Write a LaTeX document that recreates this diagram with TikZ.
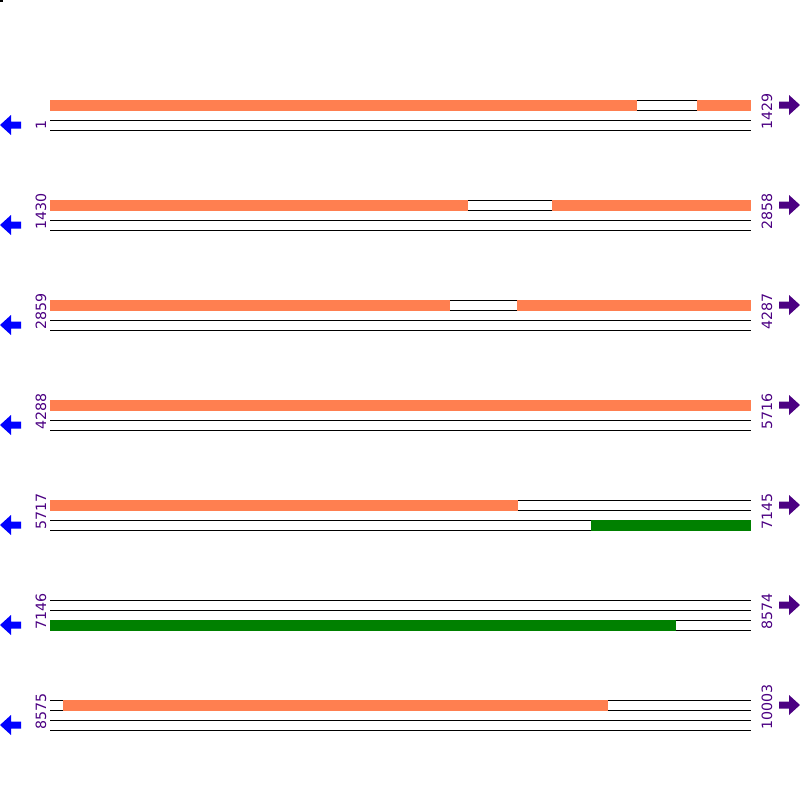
\documentclass[tikz,border=0pt]{standalone}
\usepackage{fontspec}
\setmainfont{DejaVu Sans}
\definecolor{coralc}{HTML}{FF7F50}
\definecolor{greenc}{HTML}{008000}
\definecolor{labc}{HTML}{4B0082}
\definecolor{bluec}{HTML}{0000FF}
\begin{document}
\begin{tikzpicture}[x=1pt,y=-1pt,
  trackline/.style={line width=1pt, black},
  orangebar/.style={fill=coralc},
  greenbar/.style={fill=greenc},
  numlab/.style={rotate=90, anchor=base west, inner sep=0pt, text=labc, font=\fontsize{14.2}{14.2}\selectfont},
  leftarrow/.style={fill=bluec},
  rightarrow/.style={fill=labc}]
\useasboundingbox (0,0) rectangle (800,800);
\fill (0,0) rectangle (3,2);
\foreach \y/\a/\b [count=\i] in {100/1/1429,200/1430/2858,300/2859/4287,400/4288/5716,500/5717/7145,600/7146/8574,700/8575/10003}{
  \foreach \d in {0,10,20,30}{
    \draw[trackline] (50,\y+\d) -- (751,\y+\d);
  }
  \node[numlab] (l\i) at (46,\y+30) {\a};
  \node[numlab] (r\i) at (772,\y+30) {\b};
  \fill[leftarrow] (0,\y+25) -- (11,\y+15) -- (11,\y+21.5) -- (21,\y+21.5) -- (21,\y+28.5) -- (11,\y+28.5) -- (11,\y+35) -- cycle;
  \fill[rightarrow] (800,\y+5) -- (789,\y-5) -- (789,\y+1.5) -- (779,\y+1.5) -- (779,\y+8.5) -- (789,\y+8.5) -- (789,\y+15) -- cycle;
}
% row 1
\fill[orangebar] (50,99.5) rectangle (637,110.5);
\fill[orangebar] (697,99.5) rectangle (751,110.5);
% row 2
\fill[orangebar] (50,199.5) rectangle (468,210.5);
\fill[orangebar] (552,199.5) rectangle (751,210.5);
% row 3
\fill[orangebar] (50,299.5) rectangle (450,310.5);
\fill[orangebar] (517,299.5) rectangle (751,310.5);
% row 4
\fill[orangebar] (50,399.5) rectangle (751,410.5);
% row 5
\fill[orangebar] (50,499.5) rectangle (518,510.5);
\fill[greenbar] (591,519.5) rectangle (751,530.5);
% row 6
\fill[greenbar] (50,619.5) rectangle (676,630.5);
% row 7
\fill[orangebar] (63,699.5) rectangle (608,710.5);
\end{tikzpicture}
\end{document}
